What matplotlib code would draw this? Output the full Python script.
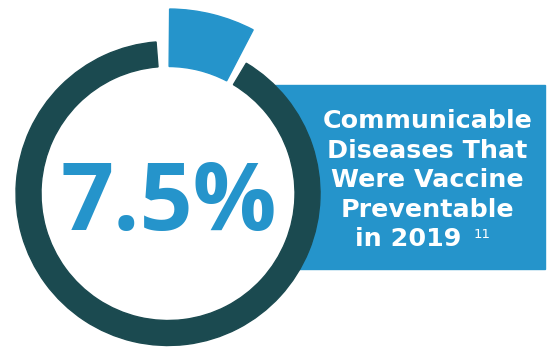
import matplotlib.pyplot as plt
from matplotlib.patches import Wedge, Circle, Rectangle

# share of communicable diseases that were vaccine preventable (percent)
share = 7.5
rest = 100 - share
big_label = f"{share}%"
caption_lines = ["Communicable", "Diseases That", "Were Vaccine", "Preventable", "in 2019"]
footnote = "11"

dark = "#1b4a50"
blue = "#2594cb"

fig = plt.figure(figsize=(5.5, 3.47), dpi=100)
ax = fig.add_axes([0, 0, 1, 1])
ax.set_xlim(0, 550)
ax.set_ylim(0, 347)
ax.set_aspect("equal")
ax.axis("off")

cx, cy = 168, 153.5
r_out, r_in = 152, 127
r_hi = 184.5
gap = 4.5

# blue caption box sits behind the ring
ax.add_patch(Rectangle((250, 78), 295, 184, color=blue, zorder=1))
ax.add_patch(Circle((cx, cy), r_in, color="white", zorder=2))

span = share / 100 * 360
start = 90 - 0.5
ax.add_patch(Wedge((cx, cy), r_hi, start - span, start, width=r_hi - r_in,
                   color=blue, zorder=3))
rest_span = rest / 100 * 360
ax.add_patch(Wedge((cx, cy), r_out, 90 + gap, 90 + gap + rest_span - 2 * gap + 0.5,
                   width=r_out - r_in, color=dark, zorder=3))

ax.text(cx + 1, 347 - 230, big_label, ha="center", va="baseline", color=blue,
        fontsize=67, fontweight="bold", family="Open Sans", zorder=4)

line_h = 29.5
base0 = 347 - 128
for i, line in enumerate(caption_lines):
    x = 408 if i == len(caption_lines) - 1 else 427.5
    ax.text(x, base0 - i * line_h, line, ha="center", va="baseline",
            color="white", fontsize=18.3, fontweight="bold", family="DejaVu Sans", zorder=4)

ax.text(474, 347 - 238, footnote, ha="left", va="baseline", color="white",
        fontsize=9.5, family="DejaVu Sans", zorder=4)

fig.savefig("out.png", dpi=100)
